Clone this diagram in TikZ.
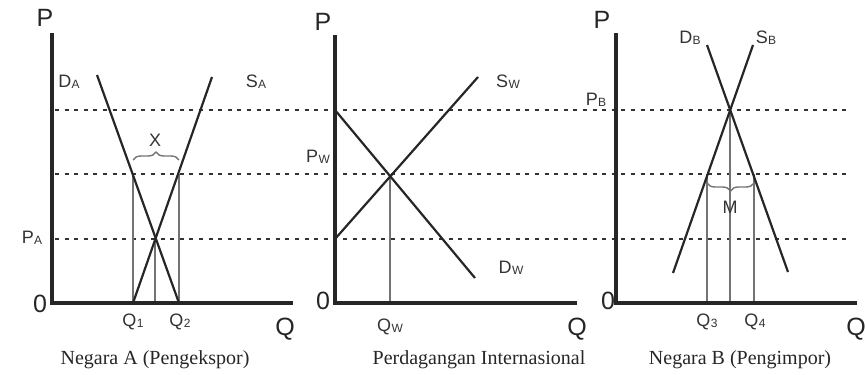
\documentclass[tikz,border=0pt]{standalone}
\usepackage{fontspec}
\setmainfont{Liberation Serif}
\setsansfont{Liberation Sans}
\usetikzlibrary{decorations.pathreplacing}
\newcommand{\sublbl}[2]{#1\kern0.2pt{\fontsize{6pt}{7pt}\selectfont\raisebox{-0.15ex}{#2}}}
\tikzset{
  axis/.style={line width=1.6pt, color=black!85},
  curve/.style={line width=1.1pt, color=black!85},
  drop/.style={line width=0.7pt, color=black!55},
  pline/.style={line width=1.1pt, color=black!80, dash pattern=on 2pt off 2.8pt},
  brc/.style={drop, decorate, decoration={brace, amplitude=4pt}},
  ax/.style={font=\sffamily\fontsize{12.5pt}{13pt}\selectfont, inner sep=0pt, text=black!85},
  lbl/.style={font=\sffamily\fontsize{9pt}{10pt}\selectfont, inner sep=0pt, text=black!80},
  captxt/.style={font=\fontsize{10pt}{11pt}\selectfont, inner sep=0pt, text=black!85},
}
\begin{document}
\begin{tikzpicture}[x=0.5pt, y=-0.5pt]
  \useasboundingbox (0,0) rectangle (865,374);
  % price levels shared by the three panels
  \coordinate (hiL) at (55,110);   \coordinate (hiR) at (848,110);
  \coordinate (midL) at (55,174);  \coordinate (midR) at (848,174);
  \coordinate (loL) at (55,239);   \coordinate (loR) at (848,239);
  \draw[pline] (hiL) -- (hiR);
  \draw[pline] (midL) -- (midR);
  \draw[pline] (loL) -- (loR);

  % Negara A
  \coordinate (oA) at (52,303); \coordinate (pA) at (52,33); \coordinate (qA) at (293,303);
  \coordinate (dA1) at (97,75);  \coordinate (dA2) at (179,303);
  \coordinate (sA1) at (133,303); \coordinate (sA2) at (212,77);
  \coordinate (q1t) at (133,174); \coordinate (q2t) at (179,174);
  \coordinate (eA) at (155,239);  \coordinate (eAb) at (155,303);
  \draw[drop] (q1t) -- (sA1);
  \draw[drop] (q2t) -- (dA2);
  \draw[drop] (eA) -- (eAb);
  \draw[curve] (dA1) -- (dA2);
  \draw[curve] (sA1) -- (sA2);
  \draw[axis] (pA) -- (oA) -- (qA);
  \coordinate (xL) at (133,160); \coordinate (xR) at (179,160);
  \draw[brc] (xL) -- (xR);
  \node[ax] (axPA) at (45,18) {P};
  \node[ax] (ax0A) at (40,304) {0};
  \node[ax] (axQA) at (285,329) {Q};
  \node[lbl] (lDA) at (69,82) {\sublbl{D}{A}};
  \node[lbl] (lSA) at (256,82) {\sublbl{S}{A}};
  \node[lbl] (lPA) at (32,238) {\sublbl{P}{A}};
  \node[lbl] (lQ1) at (133,322) {\sublbl{Q}{1}};
  \node[lbl] (lQ2) at (180,322) {\sublbl{Q}{2}};
  \node[lbl] (lX) at (155,140) {X};
  \node[captxt] (capA) at (155,360) {Negara A (Pengekspor)};

  % Perdagangan Internasional
  \coordinate (oW) at (335,303); \coordinate (pW) at (335,35); \coordinate (qW) at (577,303);
  \coordinate (sW1) at (335,239); \coordinate (sW2) at (478,77);
  \coordinate (dW1) at (335,110); \coordinate (dW2) at (475,278);
  \coordinate (eW) at (390,174);  \coordinate (eWb) at (390,303);
  \draw[drop] (eW) -- (eWb);
  \draw[curve] (sW1) -- (sW2);
  \draw[curve] (dW1) -- (dW2);
  \draw[axis] (pW) -- (oW) -- (qW);
  \node[ax] (axPW) at (323,22) {P};
  \node[ax] (ax0W) at (323,301) {0};
  \node[ax] (axQW) at (577,329) {Q};
  \node[lbl] (lPW) at (318,157) {\sublbl{P}{W}};
  \node[lbl] (lSW) at (508,82) {\sublbl{S}{W}};
  \node[lbl] (lDW) at (511,268) {\sublbl{D}{W}};
  \node[lbl] (lQW) at (390,327) {\sublbl{Q}{W}};
  \node[captxt] (capW) at (479,360) {Perdagangan Internasional};

  % Negara B
  \coordinate (oB) at (616,303); \coordinate (pB) at (616,33); \coordinate (qB) at (857,303);
  \coordinate (dB1) at (707,45);  \coordinate (dB2) at (788,272);
  \coordinate (sB1) at (673,273); \coordinate (sB2) at (753,45);
  \coordinate (eB) at (730,110);  \coordinate (eBb) at (730,303);
  \coordinate (q3t) at (707,174); \coordinate (q3b) at (707,303);
  \coordinate (q4t) at (754,174); \coordinate (q4b) at (754,303);
  \draw[drop] (eB) -- (eBb);
  \draw[drop] (q3t) -- (q3b);
  \draw[drop] (q4t) -- (q4b);
  \draw[curve] (dB1) -- (dB2);
  \draw[curve] (sB1) -- (sB2);
  \draw[axis] (pB) -- (oB) -- (qB);
  \coordinate (mL) at (707,183); \coordinate (mR) at (754,183);
  \draw[brc] (mR) -- (mL);
  \node[ax] (axPB) at (602,20) {P};
  \node[ax] (ax0B) at (608,301) {0};
  \node[ax] (axQB) at (856,329) {Q};
  \node[lbl] (lDB) at (690,38) {\sublbl{D}{B}};
  \node[lbl] (lSB) at (766,38) {\sublbl{S}{B}};
  \node[lbl] (lPB) at (596,100) {\sublbl{P}{B}};
  \node[lbl] (lQ3) at (707,322) {\sublbl{Q}{3}};
  \node[lbl] (lQ4) at (755,322) {\sublbl{Q}{4}};
  \node[lbl] (lM) at (730,207) {M};
  \node[captxt] (capB) at (740,360) {Negara B (Pengimpor)};
\end{tikzpicture}
\end{document}
